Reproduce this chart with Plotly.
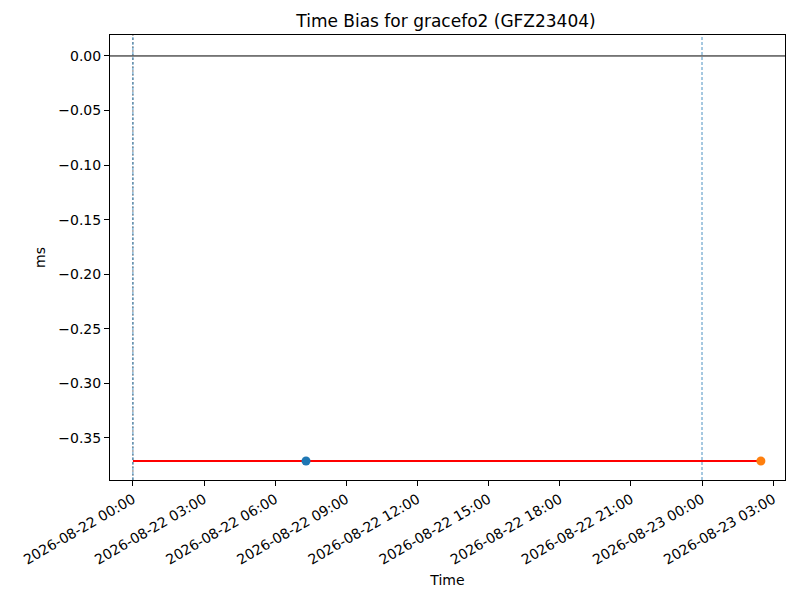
import plotly.graph_objs as go

# data
bias_ms = -0.3711
line_times = ["2026-08-22 00:00", "2026-08-23 02:29"]
line_values = [bias_ms, bias_ms]
first_time = ["2026-08-22 07:18"]
first_value = [bias_ms]
last_time = ["2026-08-23 02:29"]
last_value = [bias_ms]
day_starts = ["2026-08-22 00:00", "2026-08-23 00:00"]
tick_times = ["2026-08-22 00:00", "2026-08-22 03:00", "2026-08-22 06:00",
              "2026-08-22 09:00", "2026-08-22 12:00", "2026-08-22 15:00",
              "2026-08-22 18:00", "2026-08-22 21:00", "2026-08-23 00:00",
              "2026-08-23 03:00"]
tick_labels = [t for t in tick_times]
y_ticks = [0.0, -0.05, -0.10, -0.15, -0.20, -0.25, -0.30, -0.35]

fig = go.Figure()

fig.add_trace(go.Scatter(x=line_times, y=line_values, mode="lines",
                         line=dict(color="red", width=2), showlegend=False))
fig.add_trace(go.Scatter(x=first_time, y=first_value, mode="markers",
                         marker=dict(color="#1f77b4", size=9), showlegend=False))
fig.add_trace(go.Scatter(x=last_time, y=last_value, mode="markers",
                         marker=dict(color="#ff7f0e", size=9), showlegend=False))

# zero line
fig.add_hline(y=0, line=dict(color="black", width=1), layer="below")
# day markers
fig.add_vline(x=day_starts[0], line=dict(color="#555555", width=0.8, dash="2px,2px"),
              layer="below")
for d in day_starts:
    fig.add_vline(x=d, line=dict(color="#1f77b4", width=0.8, dash="3px,2px"),
                  layer="below")

axis_font = dict(family="DejaVu Sans", size=14, color="black")

# the page puts the figure 8px in from the top-left corner, margins allow for it
fig.update_layout(
    width=800, height=600,
    margin=dict(l=102, r=23, t=27, b=128),
    plot_bgcolor="white", paper_bgcolor="white",
    font=axis_font,
    title=dict(text="Time Bias for gracefo2 (GFZ23404)", x=0.5475, xanchor="center",
               y=0.978, yanchor="middle",
               font=dict(family="DejaVu Sans", size=17, color="black")),
    xaxis=dict(
        range=["2026-08-21 23:02", "2026-08-23 03:30"],
        tickvals=tick_times, ticktext=tick_labels, tickangle=-30,
        ticks="outside", ticklen=5, tickcolor="black",
        showline=True, linecolor="black", linewidth=1, mirror=True,
        showgrid=False, zeroline=False, automargin=False,
        title=dict(text="Time", font=axis_font, standoff=8),
    ),
    yaxis=dict(
        range=[-0.3885, 0.0192],
        tickvals=y_ticks, tickformat=".2f",
        ticks="outside", ticklen=5, tickcolor="black",
        showline=True, linecolor="black", linewidth=1, mirror=True,
        showgrid=False, zeroline=False, automargin=False,
        title=dict(text="ms", font=axis_font, standoff=9),
    ),
)

fig.write_html("out.html")
